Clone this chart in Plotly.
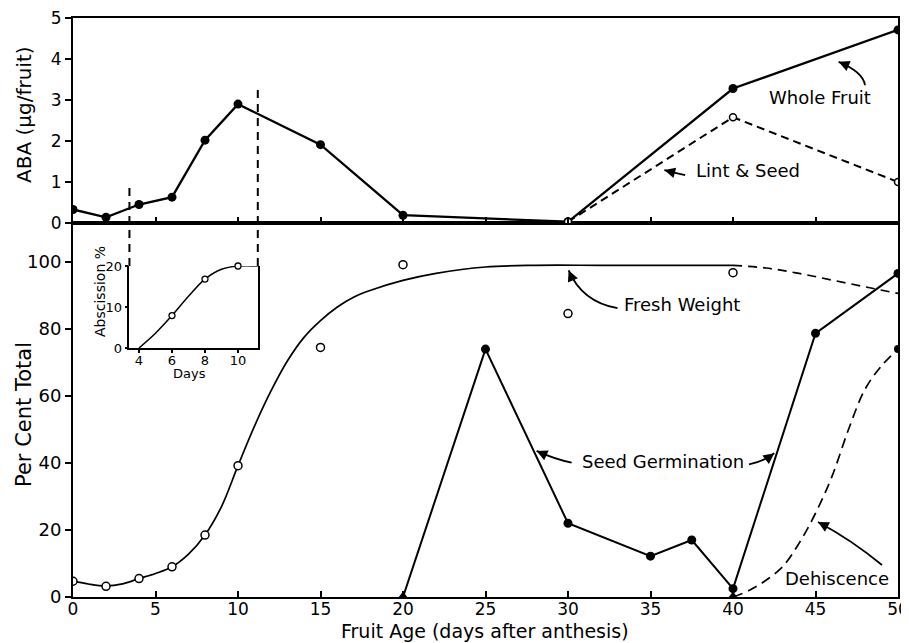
import math
import plotly.graph_objects as go

# ---------------- data ----------------
aba_days = [0, 2, 4, 6, 8, 10, 15, 20, 30, 40, 50]
aba_whole_fruit = [0.33, 0.14, 0.45, 0.63, 2.02, 2.90, 1.91, 0.19, 0.03, 3.28, 4.71]
lint_days = [30, 40, 50]
lint_seed = [0.03, 2.58, 1.00]

fw_days = [0, 2, 4, 6, 8, 10, 15, 20, 30, 40]
fw_pct = [4.7, 3.2, 5.5, 9.0, 18.5, 39.2, 74.5, 99.2, 84.6, 96.8]
fw_curve_days = [0, 1, 2, 3, 4, 5, 6, 7, 8, 9, 10, 11, 12, 13, 14, 15, 16, 17, 18, 20, 22, 25, 28, 32, 36, 40]
fw_curve_pct = [4.8, 3.8, 3.3, 3.9, 5.5, 7.0, 9.0, 12.8, 18.5, 27.0, 39.2, 51.0, 61.5, 70.5, 77.5, 82.5, 86.5, 89.5, 91.5, 94.5, 96.6, 98.5, 99.0, 99.0, 99.0, 99.0]
fw_proj_days = [40, 42, 44, 46, 48, 50]
fw_proj_pct = [99.0, 98.2, 96.6, 94.6, 92.6, 90.6]

sg_days = [20, 25, 30, 35, 37.5, 40, 45, 50]
sg_pct = [0, 74.0, 22.0, 12.2, 17.0, 2.5, 78.7, 96.6]
sg_zero_days = [20, 40]
sg_zero_pct = [0, 0]

deh_days = [40, 41, 42, 43, 44, 45, 46, 47, 48, 49, 50]
deh_pct = [0, 2.0, 5.0, 9.0, 16.0, 25.0, 36.0, 50.0, 62.0, 69.0, 74.0]

inset_curve_days = [4, 5, 6, 7, 8, 9, 10, 11.2]
inset_curve_pct = [0, 3.6, 7.9, 12.6, 16.8, 19.2, 20.0, 20.0]
inset_days = [6, 8, 10]
inset_pct = [7.9, 16.8, 20.0]

x_ticks = [0, 5, 10, 15, 20, 25, 30, 35, 40, 45, 50]
pct_ticks = [0, 20, 40, 60, 80, 100]
aba_ticks = [0, 1, 2, 3, 4, 5]
inset_x_ticks = [4, 6, 8, 10]
inset_y_ticks = [0, 10, 20]

# ---------------- layout constants (screen pixels of the reference) ----------------
OFF = 8                       # default page body margin
PLOT_LEFT, PLOT_RIGHT = 73, 898
PLOT_TOP, PLOT_BOTTOM = 18, 597
SPLIT_PX = 223                # boundary between ABA panel and per-cent panel
INSET_TOP_PX, INSET_BOTTOM_PX = 266, 348

W, H = 909 - OFF, 643 - OFF
ML, MT = PLOT_LEFT - OFF, PLOT_TOP - OFF
MR, MB = W - (PLOT_RIGHT - OFF), H - (PLOT_BOTTOM - OFF)
PW, PH = W - ML - MR, H - MT - MB
X_RANGE = [0, 50]
ABA_RANGE = [0, 5]
SPLIT = (PLOT_BOTTOM - SPLIT_PX) / PH
PCT_RANGE = [0, 100 * (PLOT_BOTTOM - SPLIT_PX) / 335.0]
INSET_X = [3.42, 11.2]
INSET_Y_DOM = [(PLOT_BOTTOM - INSET_BOTTOM_PX) / PH, (PLOT_BOTTOM - INSET_TOP_PX) / PH]
FONT = "DejaVu Sans"
BLACK = "black"


def px_to_paper(px, py):
    return (px - PLOT_LEFT) / PW, (PLOT_BOTTOM - py) / PH


fig = go.Figure()

# ABA panel
fig.add_trace(go.Scatter(x=aba_days, y=aba_whole_fruit, mode="lines+markers",
                         line=dict(color=BLACK, width=2.3),
                         marker=dict(color=BLACK, size=9, opacity=1),
                         xaxis="x2", yaxis="y2"))
fig.add_trace(go.Scatter(x=lint_days, y=lint_seed, mode="lines+markers",
                         line=dict(color=BLACK, width=2, dash="8px,5px"),
                         marker=dict(color="white", size=7, opacity=1, line=dict(color=BLACK, width=1.5)),
                         xaxis="x2", yaxis="y2"))

# Per cent panel
fig.add_trace(go.Scatter(x=fw_curve_days, y=fw_curve_pct, mode="lines",
                         line=dict(color=BLACK, width=1.7, shape="spline", smoothing=1.0),
                         xaxis="x", yaxis="y"))
fig.add_trace(go.Scatter(x=fw_proj_days, y=fw_proj_pct, mode="lines",
                         line=dict(color=BLACK, width=1.7, dash="9px,6px", shape="spline"),
                         xaxis="x", yaxis="y"))
fig.add_trace(go.Scatter(x=fw_days, y=fw_pct, mode="markers",
                         marker=dict(color="white", size=8, opacity=1, line=dict(color=BLACK, width=1.5)),
                         xaxis="x", yaxis="y"))
fig.add_trace(go.Scatter(x=deh_days, y=deh_pct, mode="lines",
                         line=dict(color=BLACK, width=1.7, dash="10px,6px", shape="spline"),
                         xaxis="x", yaxis="y"))
fig.add_trace(go.Scatter(x=deh_days[-1:], y=deh_pct[-1:], mode="markers",
                         marker=dict(color=BLACK, size=8, opacity=1),
                         xaxis="x", yaxis="y"))
fig.add_trace(go.Scatter(x=sg_days, y=sg_pct, mode="lines",
                         line=dict(color=BLACK, width=2),
                         xaxis="x", yaxis="y"))
fig.add_trace(go.Scatter(x=sg_days[1:], y=sg_pct[1:], mode="markers",
                         marker=dict(color=BLACK, size=9, opacity=1),
                         xaxis="x", yaxis="y"))
fig.add_trace(go.Scatter(x=sg_zero_days, y=sg_zero_pct, mode="markers",
                         marker=dict(color=BLACK, size=11, symbol="triangle-up", opacity=1),
                         xaxis="x", yaxis="y"))

# Inset
fig.add_trace(go.Scatter(x=inset_curve_days, y=inset_curve_pct, mode="lines",
                         line=dict(color=BLACK, width=1.5, shape="spline"),
                         cliponaxis=False, xaxis="x3", yaxis="y3"))
fig.add_trace(go.Scatter(x=inset_days, y=inset_pct, mode="markers",
                         marker=dict(color="white", size=6, opacity=1, line=dict(color=BLACK, width=1.3)),
                         cliponaxis=False, xaxis="x3", yaxis="y3"))

axis_common = dict(showline=True, linecolor=BLACK, linewidth=2, showgrid=False, zeroline=False,
                   tickcolor=BLACK, tickwidth=2, ticklen=6, automargin=False,
                   ticklabeloverflow="allow")

fig.update_layout(
    width=W, height=H,
    margin=dict(l=ML, r=MR, t=MT, b=MB),
    plot_bgcolor="white", paper_bgcolor="white",
    showlegend=False,
    font=dict(family=FONT, color=BLACK),
    xaxis=dict(axis_common, domain=[0, 1], range=X_RANGE, anchor="y", tickvals=x_ticks,
               ticks="inside", mirror=True, tickfont=dict(size=17), ticklabelstandoff=-4),
    yaxis=dict(axis_common, domain=[0, SPLIT], range=PCT_RANGE, anchor="x", tickvals=pct_ticks,
               ticks="outside", mirror=True, tickfont=dict(size=18)),
    xaxis2=dict(axis_common, domain=[0, 1], range=X_RANGE, anchor="y2", tickvals=x_ticks,
                ticks="inside", mirror=True, showticklabels=False, matches="x"),
    yaxis2=dict(axis_common, domain=[SPLIT, 1], range=ABA_RANGE, anchor="x2", tickvals=aba_ticks,
                ticks="outside", mirror=True, tickfont=dict(size=17)),
    xaxis3=dict(axis_common, domain=[INSET_X[0] / X_RANGE[1], INSET_X[1] / X_RANGE[1]], range=INSET_X,
                anchor="y3", tickvals=inset_x_ticks, ticks="outside", ticklen=3, linewidth=1.5,
                tickfont=dict(size=13), ticklabelstandoff=-3),
    yaxis3=dict(axis_common, domain=INSET_Y_DOM, range=[0, 20], anchor="x3", tickvals=inset_y_ticks,
                ticks="outside", ticklen=3, linewidth=1.5, mirror=True,
                tickfont=dict(size=13)),
)

# axis titles placed as paper annotations at reference pixel positions
for txt, (px, py), ang, size in [
    ("ABA (µg/fruit)", (24, 115), -90, 20),
    ("Per Cent Total", (24, 415), -90, 21),
    ("Fruit Age (days after anthesis)", (485, 631), 0, 19),
    ("Abscission %", (100, 292), -90, 14),
    ("Days", (189, 373), 0, 13),
]:
    xp, yp = px_to_paper(px, py)
    fig.add_annotation(x=xp, y=yp, xref="paper", yref="paper", text=txt, showarrow=False,
                       textangle=ang, xanchor="center", yanchor="middle",
                       font=dict(family=FONT, size=size, color=BLACK))


# dashed connector lines from ABA panel down to inset corners
def aba_to_paper(v):
    return SPLIT + (v - ABA_RANGE[0]) / (ABA_RANGE[1] - ABA_RANGE[0]) * (1 - SPLIT)


for xd, top_aba in [(INSET_X[0], 0.96), (INSET_X[1], 3.3)]:
    fig.add_shape(type="line", xref="x", yref="paper", x0=xd, x1=xd,
                  y0=INSET_Y_DOM[1], y1=aba_to_paper(top_aba),
                  line=dict(color=BLACK, width=2, dash="8px,6px"))

# curved arrows: (tail, control, head, yref)
XS = PW / (X_RANGE[1] - X_RANGE[0])
YS = {"y": PH * SPLIT / (PCT_RANGE[1] - PCT_RANGE[0]),
      "y2": PH * (1 - SPLIT) / (ABA_RANGE[1] - ABA_RANGE[0])}
arrows = [
    ((48.0, 3.36), (47.9, 3.68), (46.4, 3.93), "y2"),
    ((37.1, 1.17), (36.5, 1.22), (35.84, 1.29), "y2"),
    ((33.0, 86.2), (30.85, 88.1), (30.04, 97.5), "y"),
    ((30.22, 40.1), (29.2, 41.1), (28.1, 43.6), "y"),
    ((40.97, 39.6), (41.8, 40.3), (42.5, 42.9), "y"),
    ((49.03, 9.55), (47.2, 17.0), (45.15, 22.4), "y"),
]
for (tx, ty), (cx, cy), (hx, hy), yr in arrows:
    xr = "x2" if yr == "y2" else "x"
    fig.add_shape(type="path", xref=xr, yref=yr,
                  path=f"M {tx},{ty} Q {cx},{cy} {hx},{hy}",
                  line=dict(color=BLACK, width=1.8))
    dxp = (cx - hx) * XS
    dyp = -(cy - hy) * YS[yr]
    n = math.hypot(dxp, dyp)
    L = 11
    fig.add_annotation(x=hx, y=hy, ax=L * dxp / n, ay=L * dyp / n,
                       xref=xr, yref=yr, text="", showarrow=True,
                       arrowhead=2, arrowsize=1.2, arrowwidth=1.8, arrowcolor=BLACK, standoff=0)

labels = [
    ("Whole Fruit", 45.25, 3.05, "y2"),
    ("Lint & Seed", 40.9, 1.27, "y2"),
    ("Fresh Weight", 36.9, 87.2, "y"),
    ("Seed Germination", 35.73, 40.4, "y"),
    ("Dehiscence", 46.3, 5.4, "y"),
]
for txt, lx, ly, yr in labels:
    xr = "x2" if yr == "y2" else "x"
    fig.add_annotation(x=lx, y=ly, xref=xr, yref=yr, text=txt, showarrow=False,
                       font=dict(family=FONT, size=18, color=BLACK))

fig.write_html("out.html")
